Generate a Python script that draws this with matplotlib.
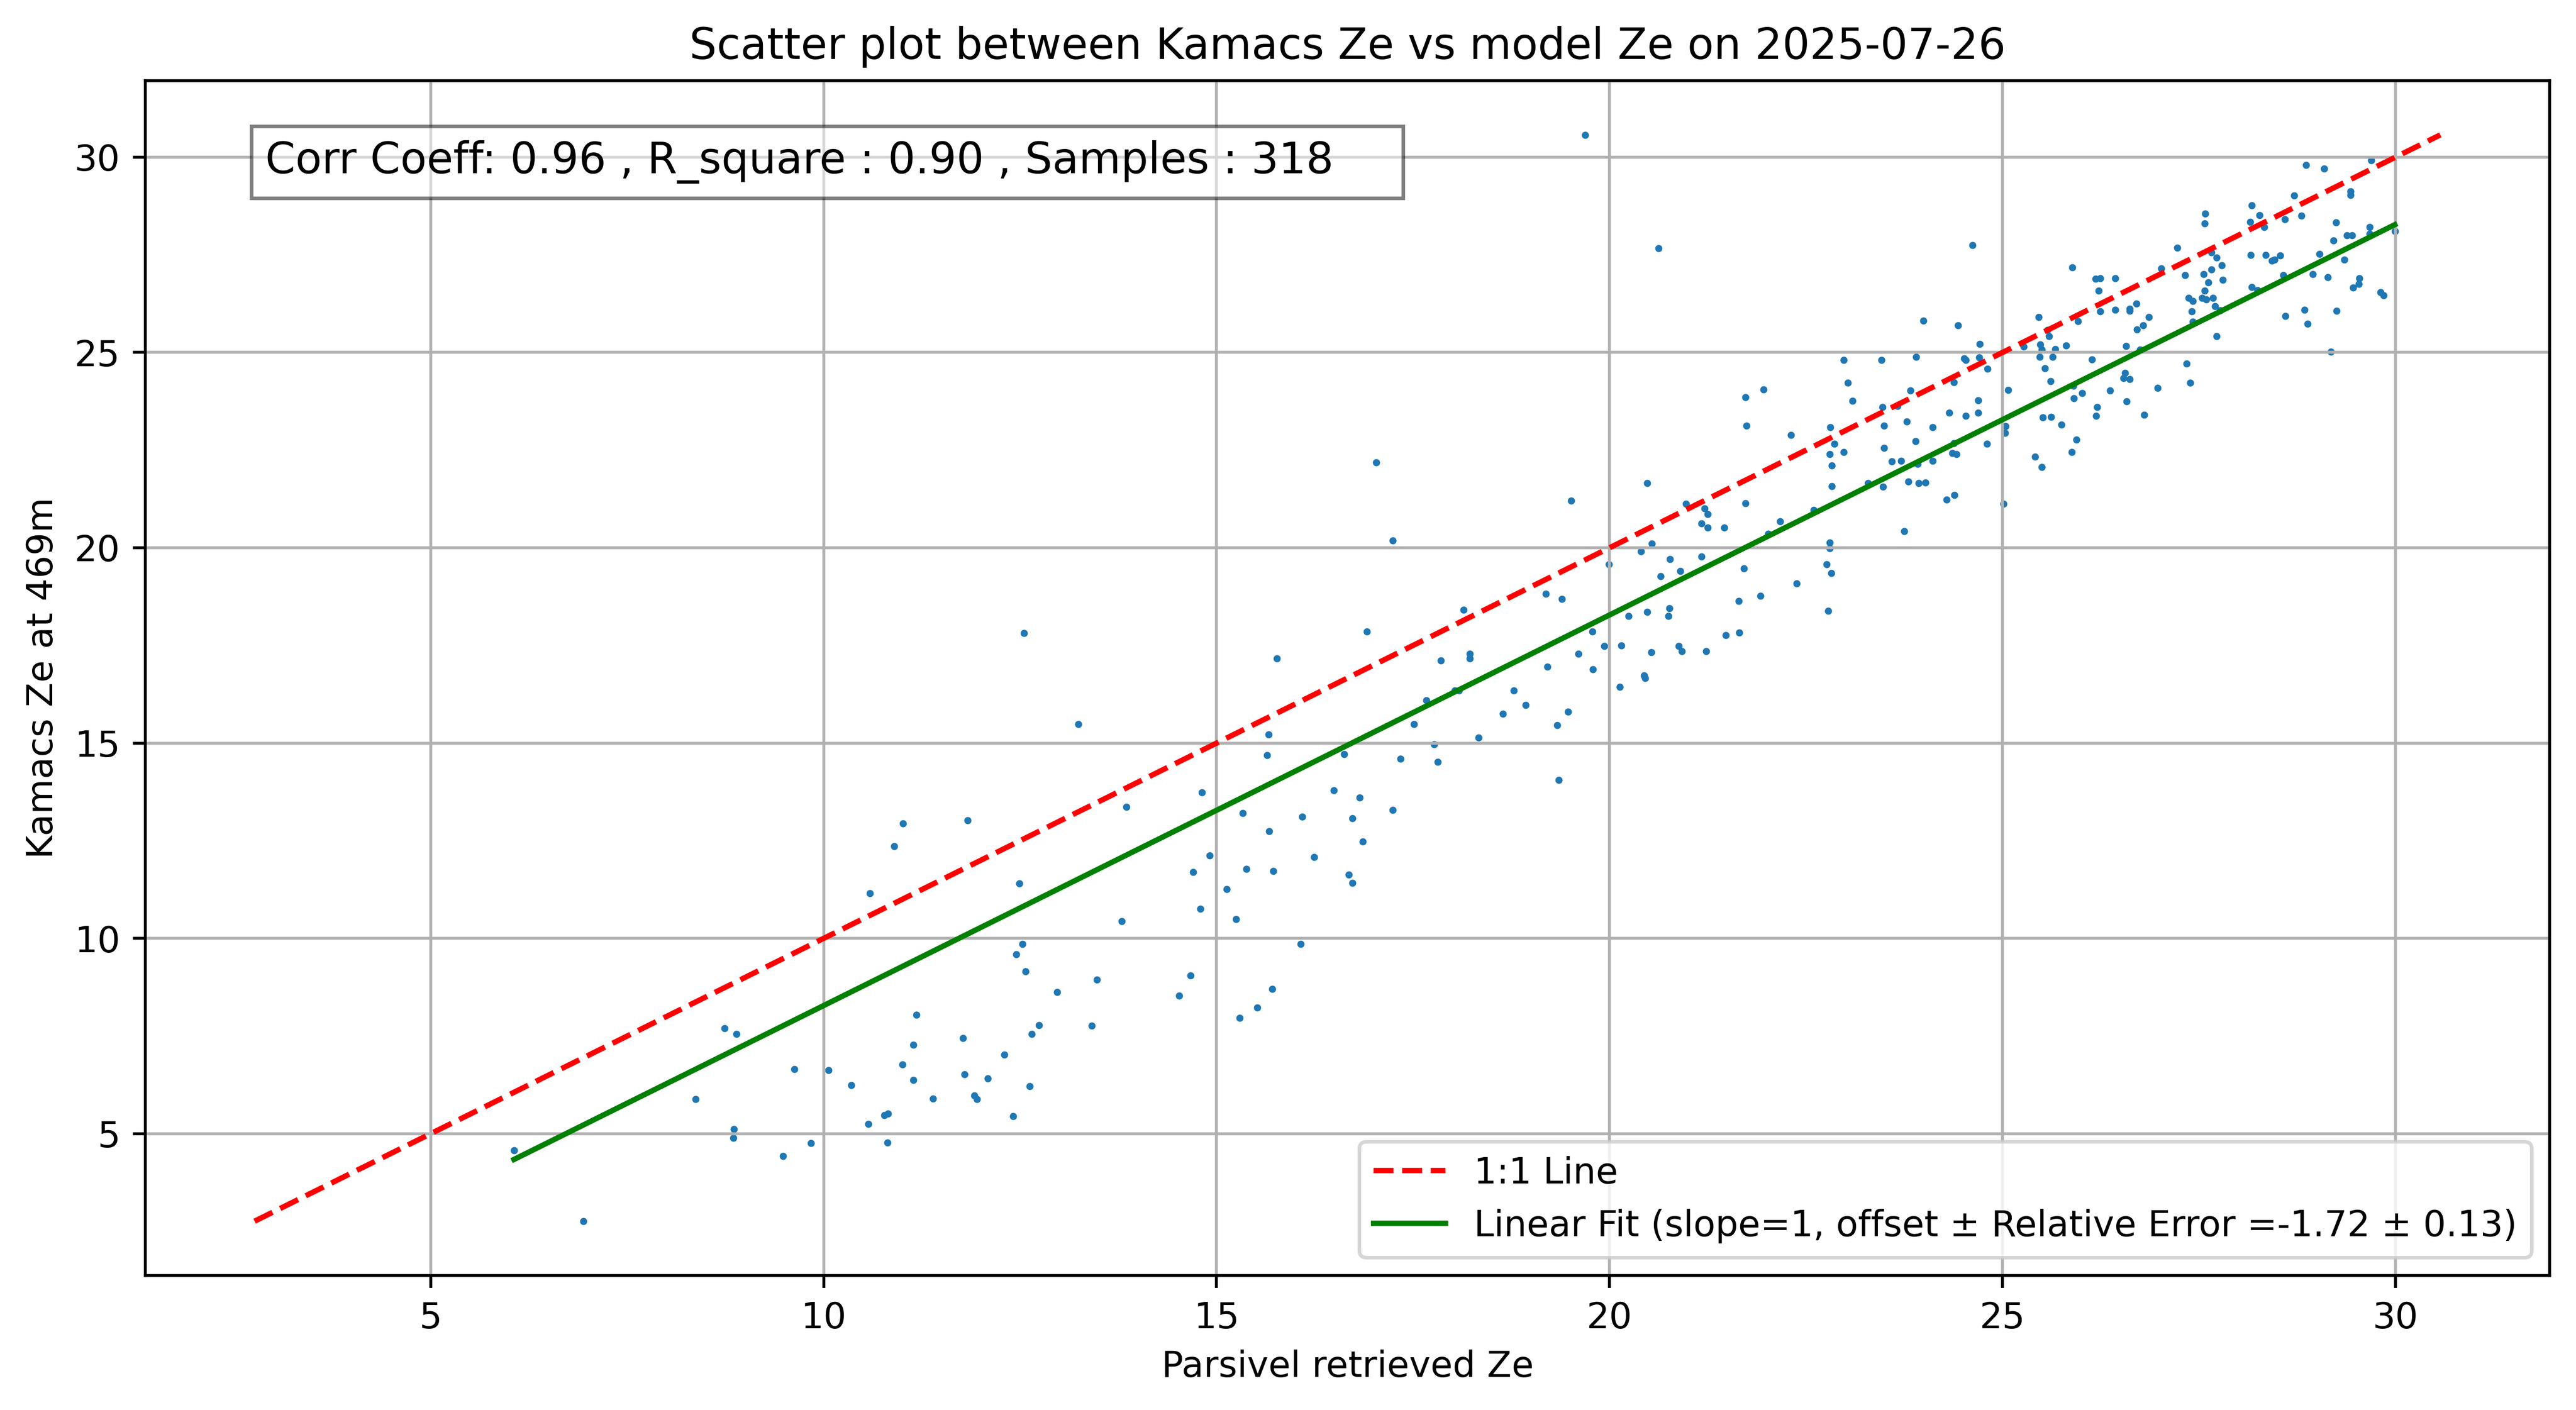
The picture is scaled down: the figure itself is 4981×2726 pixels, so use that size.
import numpy as np
import matplotlib
matplotlib.use("Agg")
import matplotlib.pyplot as plt

# Data
parsivel_ze = [
    # low range
    11.01, 11.83, 10.90, 10.59, 12.49, 12.53, 12.45, 12.57, 11.18, 8.74, 8.89, 11.77, 11.14, 12.65,
    12.30, 9.63, 10.06, 11.00, 11.79, 12.09, 10.35, 11.14, 12.62, 8.37, 11.39, 11.92, 11.95, 10.77,
    10.82, 10.57, 12.41, 8.86, 8.85, 6.06, 9.84, 9.48, 10.81, 6.94,
    # 12-19
    12.55, 13.24, 16.91, 15.77, 17.85, 18.22, 18.22, 19.21, 18.03, 18.08, 17.67, 18.78, 18.93, 18.64,
    17.51, 18.33, 15.66, 15.64, 16.62, 17.77, 17.34, 17.81, 14.81, 13.85, 16.49, 16.82, 15.33, 16.09,
    16.73, 17.24, 15.67, 16.86, 14.91, 14.70, 15.38, 15.72, 16.24, 16.68, 16.73, 15.13, 14.79, 15.25,
    13.79, 16.07, 13.48, 14.67, 12.97, 14.52, 15.71, 15.52, 15.29, 13.41, 12.74,
    # 19-23
    22.98, 23.03, 23.09, 21.73, 21.96, 21.74, 22.31, 22.81, 22.86, 22.80, 22.98, 22.83, 22.83,
    20.48, 19.51, 21.73, 20.97, 21.21, 21.25, 21.17, 21.25, 21.46, 22.17, 22.60, 22.02, 20.54, 22.80,
    22.80, 20.40, 19.99, 20.77, 21.17, 22.76, 22.82, 20.65, 20.90, 21.71, 22.38, 19.19, 19.39, 21.92,
    21.64, 22.78, 20.48, 20.76, 20.75, 20.24, 19.78, 21.65, 21.48, 19.93, 20.15, 19.60, 20.88, 20.92,
    21.23, 20.53, 19.79, 20.44, 20.45, 20.13, 19.47, 19.33, 19.35,
    # 23-27
    24.62, 25.89, 26.18, 26.24, 26.43, 26.22, 26.24, 26.43, 26.62, 26.62, 26.70, 25.46, 25.96,
    26.79, 26.71, 23.99, 24.43, 25.57, 25.59, 24.71, 25.48, 25.50, 25.67, 25.81, 25.27, 26.57, 26.75,
    23.46, 23.90, 24.51, 24.53, 24.70, 25.47, 25.64, 26.14, 24.81, 25.54, 24.38, 25.61, 26.56, 26.54,
    26.62, 23.83, 25.07, 25.90, 26.01, 26.37, 23.47, 23.66, 24.69, 25.91, 26.58, 23.78, 24.32, 24.53,
    24.69, 26.20, 26.19, 26.80, 23.49, 24.11, 25.51, 25.62, 25.75, 25.04, 25.03, 23.89, 23.49, 24.38,
    24.80, 25.94, 23.59, 23.71, 23.92, 24.11, 24.36, 24.41, 25.88, 25.41, 25.50, 23.29, 23.48, 23.80,
    23.93, 24.02, 24.29, 24.39, 25.01, 23.75,
    # 27-30
    29.69, 28.86, 29.09, 29.43, 29.43, 28.71, 28.17, 27.58, 27.57, 28.27, 28.15, 28.33, 28.59, 28.80,
    29.24, 29.67, 29.67, 29.99, 29.38, 29.45, 29.21, 27.22, 27.66, 27.72, 27.79, 27.02, 27.32, 27.56,
    27.66, 27.80, 27.62, 27.57, 27.37, 27.42, 27.54, 27.59, 27.68, 27.70, 27.41, 27.42, 27.77, 27.72,
    26.86, 28.16, 28.35, 28.43, 28.46, 28.53, 28.17, 28.24, 28.57, 29.03, 28.95, 29.14, 29.35, 29.54,
    29.53, 29.46, 29.81, 29.85, 28.60, 28.84, 28.88, 29.25, 29.18, 27.34, 27.39, 26.97,
    # isolated
    17.03, 17.24, 18.14, 19.69, 20.62,
]

kamacs_ze = [
    12.94, 13.02, 12.36, 11.15, 11.41, 9.86, 9.59, 9.15, 8.04, 7.70, 7.55, 7.45, 7.28, 7.55,
    7.03, 6.65, 6.63, 6.77, 6.52, 6.41, 6.24, 6.37, 6.22, 5.88, 5.90, 5.98, 5.88, 5.47,
    5.51, 5.25, 5.45, 5.12, 4.89, 4.57, 4.76, 4.43, 4.77, 2.76,
    17.82, 15.48, 17.86, 17.16, 17.11, 17.28, 17.16, 16.96, 16.34, 16.34, 16.10, 16.34, 15.98, 15.75,
    15.49, 15.14, 15.22, 14.69, 14.72, 14.97, 14.60, 14.52, 13.74, 13.37, 13.79, 13.60, 13.21, 13.11,
    13.08, 13.29, 12.74, 12.48, 12.12, 11.70, 11.78, 11.72, 12.08, 11.63, 11.42, 11.26, 10.76, 10.49,
    10.44, 9.86, 8.94, 9.05, 8.63, 8.53, 8.71, 8.23, 7.97, 7.77, 7.78,
    24.81, 24.22, 23.76, 23.85, 24.05, 23.13, 22.88, 23.08, 22.66, 22.40, 22.45, 22.10, 21.58,
    21.66, 21.21, 21.14, 21.13, 21.01, 20.86, 20.62, 20.52, 20.51, 20.68, 20.97, 20.36, 20.11, 20.13,
    19.98, 19.91, 19.58, 19.71, 19.78, 19.58, 19.35, 19.27, 19.41, 19.47, 19.09, 18.82, 18.69, 18.77,
    18.64, 18.38, 18.36, 18.45, 18.25, 18.25, 17.86, 17.83, 17.76, 17.48, 17.50, 17.28, 17.48, 17.35,
    17.35, 17.33, 16.89, 16.73, 16.66, 16.44, 15.80, 15.46, 14.06,
    27.75, 27.17, 26.88, 26.90, 26.90, 26.58, 26.05, 26.09, 26.12, 26.07, 26.25, 25.91, 25.80,
    25.69, 25.59, 25.81, 25.69, 25.58, 25.41, 25.22, 25.21, 25.07, 25.08, 25.18, 25.15, 25.16, 25.07,
    24.81, 24.88, 24.85, 24.81, 24.87, 24.88, 24.88, 24.82, 24.58, 24.59, 24.24, 24.26, 24.48, 24.34,
    24.31, 24.03, 24.04, 24.14, 23.96, 24.03, 23.60, 23.63, 23.78, 23.82, 23.75, 23.23, 23.45, 23.38,
    23.45, 23.60, 23.38, 23.40, 23.12, 23.08, 23.33, 23.35, 23.15, 23.11, 22.94, 22.73, 22.55, 22.68,
    22.66, 22.77, 22.21, 22.23, 22.15, 22.22, 22.42, 22.39, 22.45, 22.33, 22.07, 21.66, 21.56, 21.69,
    21.66, 21.67, 21.23, 21.35, 21.13, 20.43,
    29.92, 29.80, 29.71, 29.12, 29.03, 29.02, 28.77, 28.55, 28.30, 28.52, 28.34, 28.21, 28.41, 28.50,
    28.33, 28.21, 28.04, 28.10, 28.00, 28.00, 27.86, 27.68, 27.56, 27.43, 27.23, 27.15, 26.98, 27.00,
    27.12, 26.86, 26.79, 26.58, 26.40, 26.32, 26.39, 26.35, 26.40, 26.19, 26.05, 25.78, 26.08, 25.41,
    25.91, 27.50, 27.50, 27.35, 27.37, 27.48, 26.67, 26.60, 26.98, 27.52, 27.00, 26.93, 27.37, 26.90,
    26.75, 26.66, 26.54, 26.46, 25.93, 26.09, 25.73, 26.07, 25.02, 24.72, 24.23, 24.09,
    22.19, 20.19, 18.41, 30.57, 27.67,
]

fit_slope = 1.0
fit_offset = -1.72
fit_error = 0.13
corr_coeff = 0.96
r_square = 0.90
n_samples = 318
date_str = "2025-07-26"
height_str = "469m"

x = np.array(parsivel_ze)
y = np.array(kamacs_ze)

fig = plt.figure(figsize=(4981 / 500, 2726 / 500), dpi=500)
ax = fig.add_axes([281 / 4981, (2726 - 2466) / 2726,
                   (4930 - 281) / 4981, (2466 - 155.7) / 2726])

ax.scatter(x, y, s=1, color="#1f77b4")

lo = min(x.min(), y.min())
hi = max(x.max(), y.max())
ax.plot([lo, hi], [lo, hi], "r--", lw=1.5, label="1:1 Line")

xf = np.array([x.min(), x.max()])
ax.plot(xf, fit_slope * xf + fit_offset, color="green", lw=1.5,
        label=f"Linear Fit (slope=1, offset \u00b1 Relative Error ={fit_offset:.2f} \u00b1 {fit_error:.2f})")

ax.text(0.05, 0.95,
        f"Corr Coeff: {corr_coeff:.2f} , R_square : {r_square:.2f} , Samples : {n_samples}    ",
        transform=ax.transAxes, fontsize=12, va="top",
        bbox=dict(facecolor="white", alpha=0.5))

ax.set_xlabel("Parsivel retrieved Ze")
ax.set_ylabel(f"Kamacs Ze at {height_str}")
ax.set_title(f"Scatter plot between Kamacs Ze vs model Ze on {date_str}")
ax.grid(True)
ax.legend(loc="lower right")

fig.savefig("out.png", dpi=500)
